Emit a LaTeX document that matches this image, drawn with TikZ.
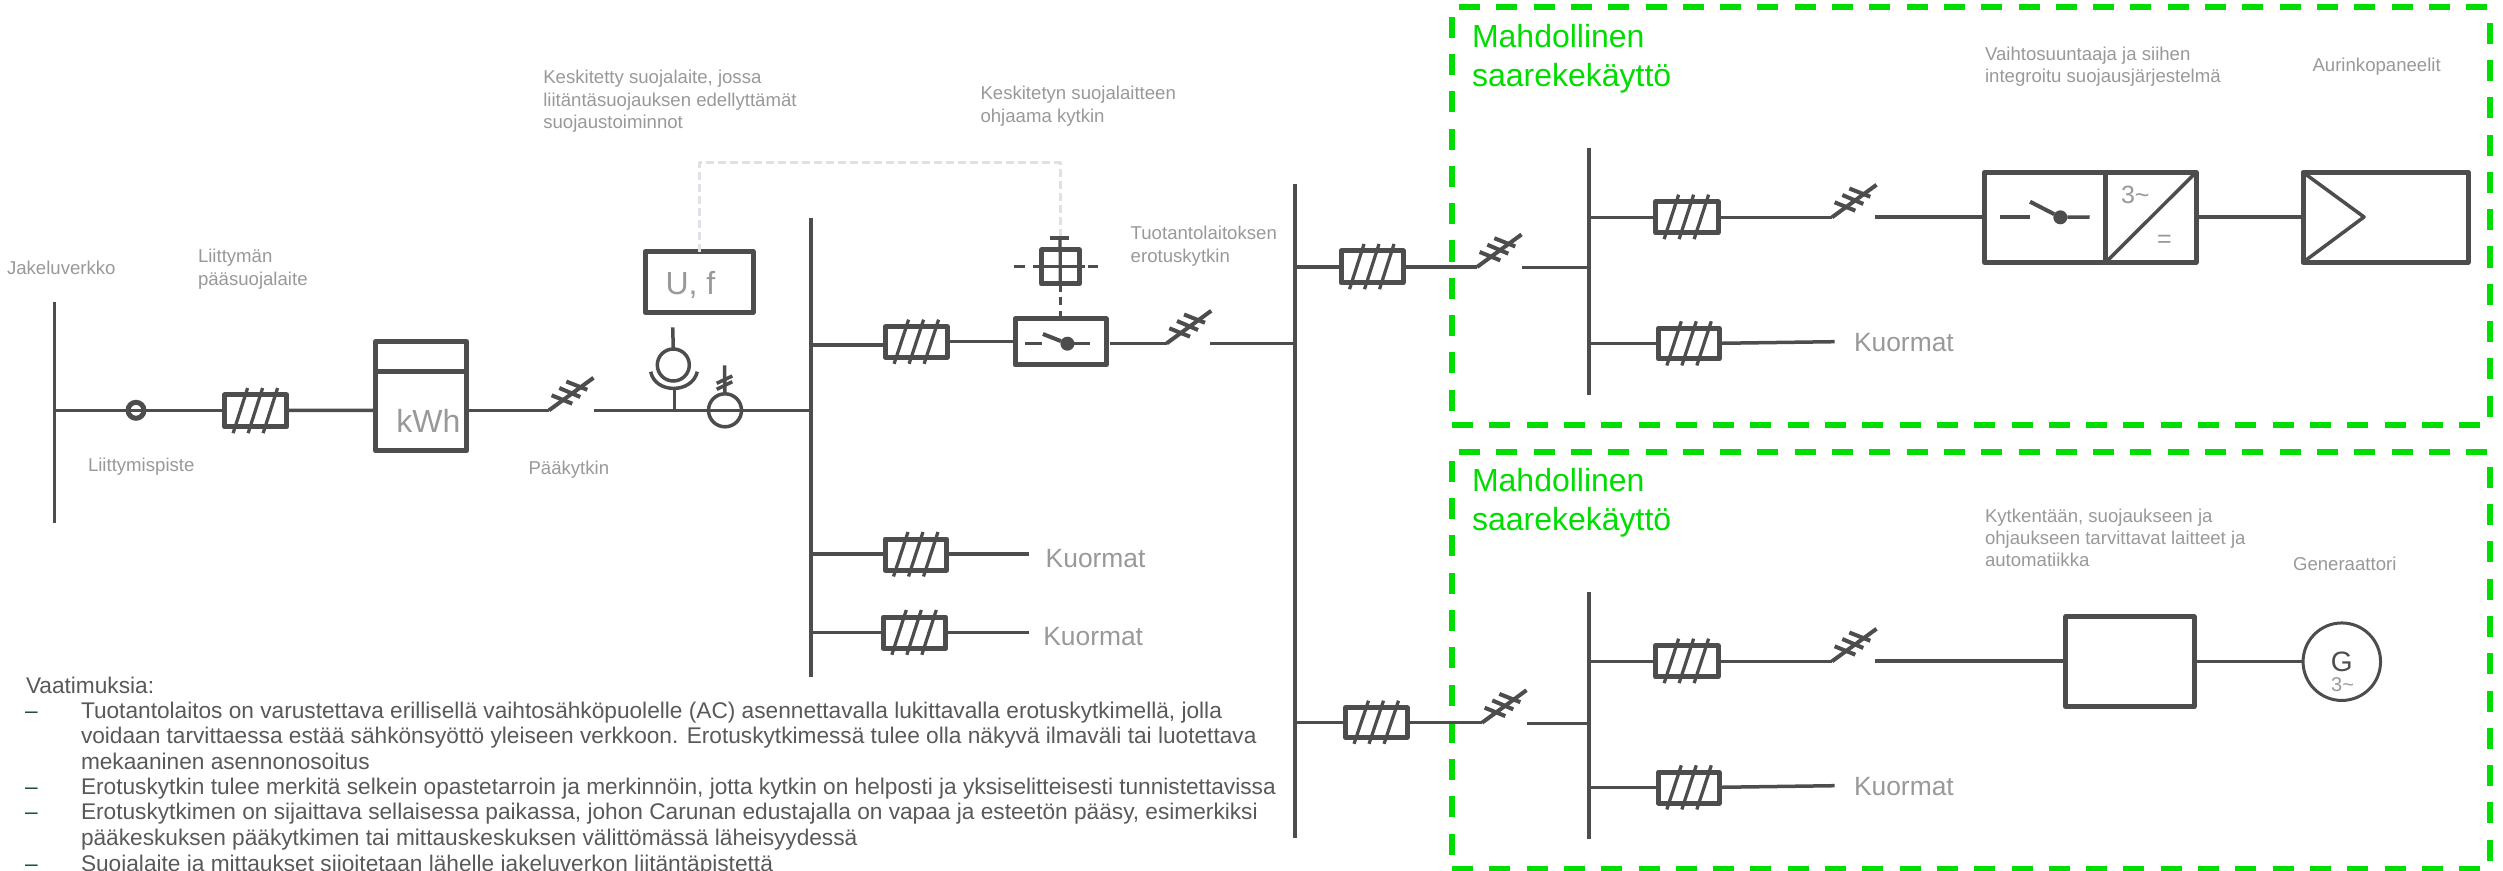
\documentclass[tikz,border=0pt]{standalone}
\usepackage{fontspec}
\setmainfont{Liberation Sans}
\definecolor{dk}{HTML}{4D4D4D}
\definecolor{lbl}{HTML}{999999}
\definecolor{lst}{HTML}{595959}
\definecolor{teal1}{HTML}{1F4F48}
\definecolor{grn}{HTML}{00DD00}
\definecolor{ltg}{HTML}{E0E0E6}
\tikzset{
  x=0.4pt,y=-0.4pt,
  wire/.style={draw=dk,line width=1.4pt},
  thin wire/.style={draw=dk,line width=1.2pt},
  tick/.style={draw=dk,line width=1.3pt},
  bladeline/.style={draw=dk,line width=1.6pt},
  devbox/.style={rectangle,draw=dk,line width=2pt,line join=round,inner sep=0pt,outer sep=0pt},
  lab/.style={anchor=base west,inner sep=0pt,outer sep=0pt,text=lbl,font=\fontsize{7.44}{9}\selectfont},
  big/.style={anchor=base west,inner sep=0pt,outer sep=0pt,text=lbl,font=\fontsize{10.56}{12}\selectfont},
  huge lab/.style={anchor=base west,inner sep=0pt,outer sep=0pt,text=lbl,font=\fontsize{12.8}{15}\selectfont},
  mid lab/.style={anchor=base west,inner sep=0pt,outer sep=0pt,text=lbl,font=\fontsize{10}{12}\selectfont},
  grnt/.style={anchor=base west,inner sep=0pt,outer sep=0pt,text=grn,font=\fontsize{12.8}{15}\selectfont},
  lt/.style={anchor=base west,inner sep=0pt,outer sep=0pt,text=lst,font=\fontsize{9.07}{10}\selectfont},
  ltd/.style={anchor=base west,inner sep=0pt,outer sep=0pt,text=teal1,font=\fontsize{9.07}{10}\selectfont},
  grnline/.style={draw=grn,line width=2.4pt,dash pattern=on 8.4pt off 6.52pt},
  ctrl/.style={draw=ltg,line width=1.2pt,line join=round,dash pattern=on 3.2pt off 1.6pt},
  ctrldash/.style={draw=dk,line width=1.2pt,dash pattern=on 3.2pt off 2.2pt},
  dot/.style={circle,fill=dk,draw=none,minimum size=5.6pt,inner sep=0pt,outer sep=0pt},
}
% name, xl, xr, yt, yb
\newcommand{\boxat}[5]{\node[devbox,minimum width={(#3-#2)*0.4pt},minimum height={(#5-#4)*0.4pt}] (#1) at ({(#2+#3)/2},{(#4+#5)/2}) {};}
% fuse: name, xl, xr, yt, yb
\newcommand{\fuseat}[5]{\boxat{#1}{#2}{#3}{#4}{#5}
  \foreach \k in {0,15,30}{\draw[tick] ({#2+8.5+\k},{#5+6.5}) -- ({#2+23+\k},{#4-7});}}
% blade starting from a named coordinate
\newcommand{\blade}[1]{\draw[bladeline] (#1) -- ++(44.5,-32.5);
  \draw[tick,line width=1.6pt] ([shift={(2.6,-15)}]#1) -- ([shift={(23.3,-6.6)}]#1);
  \draw[tick,line width=1.6pt] ([shift={(10.3,-22.3)}]#1) -- ([shift={(31.3,-13.3)}]#1);
  \draw[tick,line width=1.6pt] ([shift={(17.3,-28.8)}]#1) -- ([shift={(38.3,-20.5)}]#1);}
\begin{document}
\begin{tikzpicture}
\useasboundingbox (0,0) rectangle (2503,871);
\clip (0,0) rectangle (2503,871);
\fill[white] (0,0) rectangle (2503,871);

% ---- green frames
\foreach \dy/\tp/\bt in {0/7.5/425, 444/452/869}{
  \draw[grnline] (1459,\tp) -- (2489.5,\tp);
  \draw[grnline] (1452,\bt) -- (2489.5,\bt);
  \draw[grnline] (1452,{16.7+\dy}) -- (1452,\bt);
  \draw[grnline] (2489.5,{22.7+\dy}) -- (2489.5,\bt);
}

% ---- buses
\coordinate (b1t) at (54.6,302); \coordinate (b1b) at (54.6,523);
\coordinate (b2t) at (811,218);  \coordinate (b2b) at (811,677);
\coordinate (b3t) at (1295,184); \coordinate (b3b) at (1295,838);
\coordinate (b4t) at (1589,148); \coordinate (b4b) at (1589,395);
\coordinate (b5t) at (1589,592); \coordinate (b5b) at (1589,839);
\foreach \a/\b in {b1t/b1b,b2t/b2b,b3t/b3b,b4t/b4b,b5t/b5b}{\draw[wire] (\a) -- (\b);}

% ---- incoming line
\coordinate (b1m) at (54.6,410.3);
\node[circle,draw=dk,line width=2pt,minimum size=16pt*0.4,inner sep=0pt,outer sep=0pt] (jp) at (136,410.3) {};
\fuseat{f1}{224.6}{286.7}{395}{426.7}
\draw[wire] (b1m) -- (b1m -| f1.west);
\draw[wire] (f1.east |- 0,410.3) -- (375.6,410.5);

% kWh meter
\boxat{kwh}{375.6}{466.6}{341.7}{450.7}
\draw[devbox] (kwh.west |- 0,372) -- (kwh.east |- 0,372);
\node[huge lab] (kwht) at (396.4,432.3) {kWh};
\coordinate (s1) at (549,410.3);
\draw[wire] (kwh.east |- s1) -- (s1);
\blade{s1}
\coordinate (s1r) at (594,410.3);
\coordinate (b2m) at (811,410.3);
\draw[wire] (s1r) -- (b2m);

% measuring transformers
\node[circle,draw=dk,line width=1.4pt,minimum size=12.8pt,inner sep=0pt,outer sep=0pt] (ct1) at (673.3,365) {};
\coordinate (ct1t) at (672.7,327.3);
\coordinate (ct1b) at (674.7,388);
\draw[wire] (ct1t) -- (ct1.north);
\draw[wire] (ct1b) -- (ct1b |- b2m);
\draw[wire] (650.7,371.7) .. controls (655,394) and (692,394) .. (697.3,371.7);
\node[circle,draw=dk,line width=1.4pt,minimum size=13.2pt,inner sep=0pt,outer sep=0pt] (vt1) at (725,410.3) {};
\coordinate (vt1t) at (724.5,365.3);
\draw[wire] (vt1t) -- (vt1.north);
\draw[wire] (716.7,383.3) -- (732.3,376);
\draw[wire] (716.7,389.3) -- (732.3,381.7);

% U,f relay and control line
\boxat{uf}{645.3}{753.2}{251.7}{312.3}
\node[huge lab] (uft) at (665.5,295) {U, f};
\coordinate (ctlc) at (1060,162.7);
\coordinate (ctlt) at (1060,238);
\draw[ctrl] (uf.north) -- (uf.north |- ctlc) -- (ctlc) -- (ctlt);

% ---- branch with controlled switch
\fuseat{f2}{885.6}{947}{326.7}{357.3}
\coordinate (b2a) at (811,345);
\draw[wire] (b2a) -- (b2a -| f2.west);
\boxat{csw}{1015}{1106}{319}{365}
\draw[wire] (f2.east |- 0,341.7) -- (csw.west |- 0,341.7);
\coordinate (cswl) at (1025,343.7);
\coordinate (cswk) at (1042,343.7);
\coordinate (cswb) at (1042.9,334);
\node[dot] (cswd) at (1067.4,343.7) {};
\coordinate (cswr) at (1090,343.7);
\draw[wire] (cswl) -- (cswk);
\draw[bladeline] (cswb) -- (cswd);
\draw[wire] (cswd) -- (cswr);

% actuator
\boxat{act}{1041.7}{1079}{250}{284}
\draw[tick,line width=1.3pt] (ctlt) -- (act.south);
\draw[tick,line width=1.3pt] (1049.6,238) -- (1069.4,238);
\draw[tick,line width=1.3pt] (1014,266.7) -- (1025,266.7);
\draw[tick,line width=1.3pt] (1033,266.7) -- (1085,266.7);
\draw[tick,line width=1.3pt] (1088,266.7) -- (1098,266.7);
\draw[ctrldash] (act.south) -- (csw.north -| act.south);

% separating switch
\coordinate (s2) at (1166.7,343.3);
\draw[wire] (1110,343.3) -- (s2);
\blade{s2}
\coordinate (b3a) at (1295,343.3);
\draw[wire] (1210,343.3) -- (b3a);

% load branches on bus 2
\fuseat{f3}{885}{946.7}{539}{570}
\coordinate (b2c) at (811,554);
\coordinate (l1) at (1029.3,554);
\draw[wire] (b2c) -- (b2c -| f3.west);
\draw[wire] (f3.east |- l1) -- (l1);
\node[big] (k1) at (1045.7,567.7) {Kuormat};
\fuseat{f4}{883.3}{945.7}{617}{648.3}
\coordinate (b2d) at (811,632.7);
\coordinate (l2) at (1029.3,632.7);
\draw[wire] (b2d) -- (b2d -| f4.west);
\draw[wire] (f4.east |- l2) -- (l2);
\node[big] (k2) at (1043.3,645.3) {Kuormat};

% ---- upper feeder
\fuseat{f5}{1341}{1403}{251}{282.7}
\coordinate (b3c) at (1295,267);
\coordinate (s3) at (1477,267);
\draw[wire] (b3c) -- (b3c -| f5.west);
\draw[wire] (f5.east |- s3) -- (s3);
\blade{s3}
\coordinate (s3r) at (1522,267.7);
\coordinate (b4a) at (1589,267.7);
\draw[wire] (s3r) -- (b4a);

\fuseat{f6}{1655.6}{1718}{201.7}{232.7}
\coordinate (b4b1) at (1589,217.3);
\coordinate (s4) at (1832,217.3);
\draw[wire] (b4b1) -- (b4b1 -| f6.west);
\draw[wire] (f6.east |- s4) -- (s4);
\blade{s4}
\boxat{inv}{1984.4}{2196}{172.3}{262.3}
\coordinate (s4r) at (1875,217);
\draw[wire] (s4r) -- (s4r -| inv.west);
\coordinate (invt) at (2105.8,172.3);
\coordinate (invb) at (2105.8,262.3);
\draw[devbox] (invt) -- (invb);
\draw[wire] (invb) -- (inv.north east);
\coordinate (isl) at (2000,217);
\coordinate (isk) at (2030,217);
\coordinate (isb) at (2030,201.7);
\node[dot] (isd) at (2060.3,217.3) {};
\coordinate (isr) at (2089.5,217);
\draw[wire] (isl) -- (isk);
\draw[bladeline] (isb) -- (isd);
\draw[wire] (isd) -- (isr);
\node[mid lab] (t3a) at (2121,204) {3\textasciitilde};
\node[mid lab] (teq) at (2157,248) {=};
\boxat{pv}{2303}{2468}{172.3}{262.3}
\coordinate (pvt) at (2364,217);
\draw[wire] (inv.east |- 0,217) -- (pv.west |- 0,217);
\draw[wire,line join=round] (pv.north west) -- (pvt) -- (pv.south west);

\fuseat{f7}{1658.3}{1719}{328.3}{359}
\coordinate (b4c) at (1589,343.3);
\coordinate (l3) at (1834.6,341.7);
\draw[wire] (b4c) -- (b4c -| f7.west);
\draw[wire] (f7.east |- b4c) -- (l3);
\node[big] (k3) at (1854,351.7) {Kuormat};

% ---- lower feeder
\fuseat{f8}{1345.5}{1407}{707.7}{737.3}
\coordinate (b3d) at (1295,722.7);
\coordinate (s5) at (1482,722.7);
\draw[wire] (b3d) -- (b3d -| f8.west);
\draw[wire] (f8.east |- s5) -- (s5);
\blade{s5}
\coordinate (s5r) at (1526.8,723.3);
\coordinate (b5a) at (1589,723.3);
\draw[wire] (s5r) -- (b5a);

\fuseat{f9}{1655.6}{1718}{645.7}{676.7}
\coordinate (b5b1) at (1589,661.3);
\coordinate (s6) at (1832,661.3);
\draw[wire] (b5b1) -- (b5b1 -| f9.west);
\draw[wire] (f9.east |- s6) -- (s6);
\blade{s6}
\boxat{ctl}{2065.8}{2194}{616.7}{706.7}
\coordinate (s6r) at (1875,661);
\draw[wire] (s6r) -- (s6r -| ctl.west);
\node[circle,draw=dk,line width=1.2pt,minimum size=31pt,inner sep=0pt,outer sep=0pt] (gen) at (2341.8,661.7) {};
\draw[wire] (ctl.east |- gen.west) -- (gen.west);
\node[anchor=base,inner sep=0pt,text=dk,font=\fontsize{11.2}{12}\selectfont] (gt) at (2341.7,671.7) {G};
\node[anchor=base west,inner sep=0pt,text=lbl,font=\fontsize{8}{9}\selectfont] (gt3) at (2330.7,691) {3\textasciitilde};

\fuseat{f10}{1658.3}{1719}{772.3}{803}
\coordinate (b5c) at (1589,787.3);
\coordinate (l4) at (1834.6,785.7);
\draw[wire] (b5c) -- (b5c -| f10.west);
\draw[wire] (f10.east |- b5c) -- (l4);
\node[big] (k4) at (1854,795.7) {Kuormat};

% ---- labels
\node[lab] (t1) at (7,275) {Jakeluverkko};
\node[lab] (t2) at (198,262.3) {Liittymän};
\node[lab] (t3) at (198,285.3) {pääsuojalaite};
\node[lab] (t4) at (88,471) {Liittymispiste};
\node[lab] (t5) at (528.5,474) {Pääkytkin};
\node[lab] (t6) at (543.3,84) {Keskitetty suojalaite, jossa};
\node[lab] (t7) at (543.3,106.5) {liitäntäsuojauksen edellyttämät};
\node[lab] (t8) at (543.3,129) {suojaustoiminnot};
\node[lab] (t9) at (980.5,100) {Keskitetyn suojalaitteen};
\node[lab] (t10) at (980.5,122.7) {ohjaama kytkin};
\node[lab] (t11) at (1130.7,240) {Tuotantolaitoksen};
\node[lab] (t12) at (1130.7,263) {erotuskytkin};
\node[lab] (t13) at (1985,60.7) {Vaihtosuuntaaja ja siihen};
\node[lab] (t14) at (1985,82.3) {integroitu suojausjärjestelmä};
\node[lab] (t15) at (2312.5,71.7) {Aurinkopaneelit};
\node[lab] (t16) at (1985,522) {Kytkentään, suojaukseen ja};
\node[lab] (t17) at (1985,544) {ohjaukseen tarvittavat laitteet ja};
\node[lab] (t18) at (1985,566) {automatiikka};
\node[lab] (t19) at (2293,570) {Generaattori};

\node[grnt] (g1) at (1472,47.7) {Mahdollinen};
\node[grnt] (g2) at (1472,86.7) {saarekekäyttö};
\node[grnt] (g3) at (1472,491.7) {Mahdollinen};
\node[grnt] (g4) at (1472,530.7) {saarekekäyttö};

% ---- requirements
\node[lt] (r0) at (26,693.3) {Vaatimuksia:};
\node[ltd] (d1) at (25,718.3) {–};
\node[lt] (r1) at (81,718.3) {Tuotantolaitos on varustettava erillisellä vaihtosähköpuolelle (AC) asennettavalla lukittavalla erotuskytkimellä, jolla};
\node[lt] (r2) at (81,743.7) {voidaan tarvittaessa estää sähkönsyöttö yleiseen verkkoon. Erotuskytkimessä tulee olla näkyvä ilmaväli tai luotettava};
\node[lt] (r3) at (81,769.1) {mekaaninen asennonosoitus};
\node[ltd] (d2) at (25,794.5) {–};
\node[lt] (r4) at (81,794.5) {Erotuskytkin tulee merkitä selkein opastetarroin ja merkinnöin, jotta kytkin on helposti ja yksiselitteisesti tunnistettavissa};
\node[ltd] (d3) at (25,819.9) {–};
\node[lt] (r5) at (81,819.9) {Erotuskytkimen on sijaittava sellaisessa paikassa, johon Carunan edustajalla on vapaa ja esteetön pääsy, esimerkiksi};
\node[lt] (r6) at (81,845.3) {pääkeskuksen pääkytkimen tai mittauskeskuksen välittömässä läheisyydessä};
\node[ltd] (d4) at (25,871) {–};
\node[lt] (r7) at (81,871) {Suojalaite ja mittaukset sijoitetaan lähelle jakeluverkon liitäntäpistettä};
\end{tikzpicture}
\end{document}
